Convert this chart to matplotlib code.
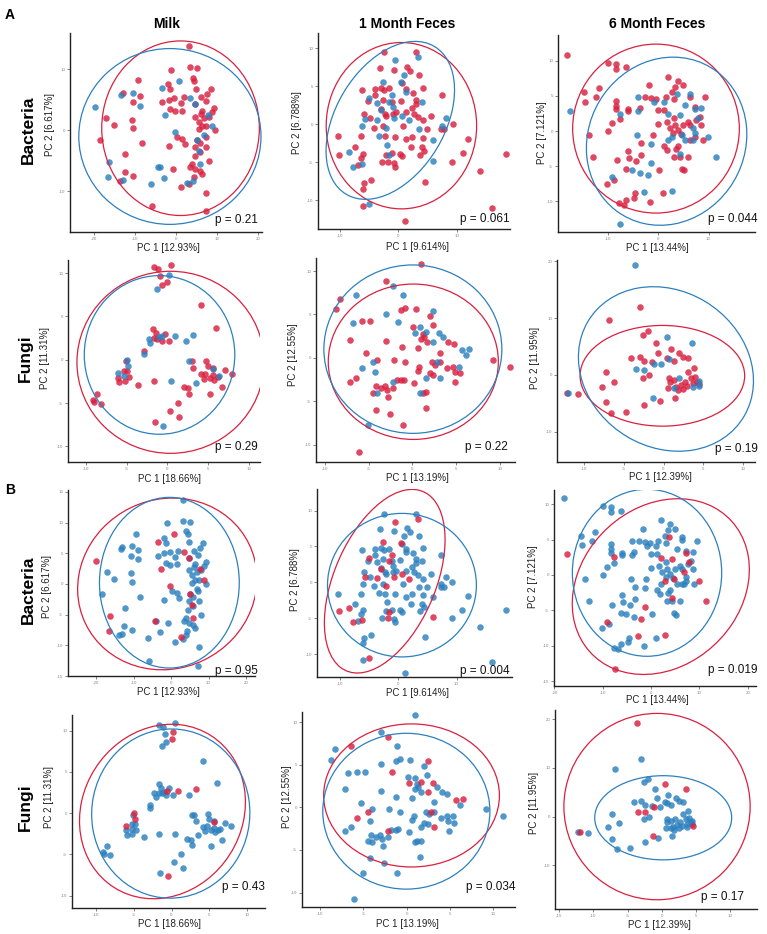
import matplotlib
matplotlib.use("Agg")
import numpy as np
import matplotlib.pyplot as plt
from matplotlib.patches import Ellipse

plt.rcParams['font.family'] = ['Liberation Sans', 'DejaVu Sans']
plt.rcParams['axes.unicode_minus'] = False

W, H = 767, 934
RED = '#D9203F'
BLUE = '#2C80BF'

# ---------------- data ----------------
col_titles = ['Milk', '1 Month Feces', '6 Month Feces']
row_titles = ['Bacteria', 'Fungi']
pc1_bac = ['PC 1 [12.93%]', 'PC 1 [9.614%]', 'PC 1 [13.44%]']
pc2_bac = ['PC 2 [6.617%]', 'PC 2 [6.788%]', 'PC 2 [7.121%]']
pc1_fun = ['PC 1 [18.66%]', 'PC 1 [13.19%]', 'PC 1 [12.39%]']
pc2_fun = ['PC 2 [11.31%]', 'PC 2 [12.55%]', 'PC 2 [11.95%]']
p_A_bac = ['0.21', '0.061', '0.044']
p_A_fun = ['0.29', '0.22', '0.19']
p_B_bac = ['0.95', '0.004', '0.019']
p_B_fun = ['0.43', '0.034', '0.17']

# Milk bacteria
milk_bac_x = [3.1,-1.2,3.3,5.1,-9.3,-2.0,-1.4,4.1,4.5,4.9, 8.5,-13.0,-8.9,-3.4,-1.8,-0.4,1.9,1.1,6.2,7.6,
              7.2,4.7,-10.6,-1.4,-0.2,1.5,9.2,8.9,6.3,4.7, 6.1,6.8,8.0,-17.0,-15.2,-10.7,-10.5,5.5,6.3,5.5,
              7.4,9.4,-18.5,-8.3,0.2,1.5,2.1,-1.8,5.1,7.2, 5.9,7.4,4.7,4.6,5.9,8.0,3.9,3.5,4.7,5.8,
              6.3,4.3,-12.4,-12.5,-10.4,-13.8,-0.8,1.1,3.1,7.4, -5.9,7.2,
              -19.9,-10.5,-8.7,-13.4,-3.5,0.7,3.5,-2.8,4.7,7.7, 8.8,-0.2,5.1,5.5,6.9,5.8,-16.4,-16.6,-13.0,-4.4,
              -4.0,-3.0,-6.1,2.7,4.1]
milk_bac_y = [13.7,9.9,10.3,10.1,8.2,7.5,6.7,8.6,8.1,6.8, 6.7,6.0,5.6,4.6,5.0,5.2,5.4,4.4,5.4,5.9,
              4.7,4.2,4.6,3.4,3.1,3.2,3.6,2.9,3.2,2.2, 2.7,1.9,2.2,1.9,0.8,1.7,0.3,1.4,0.7,0.1,
              0.7,0.0,-1.7,-2.2,-1.1,-1.4,-2.3,-2.6,-1.6,-1.1, -2.2,-2.8,-2.8,-4.2,-3.6,-5.0,-5.6,-6.1,-6.4,-6.7,
              -7.2,-7.7,-4.0,-6.9,-7.5,-8.3,-6.4,-9.4,-8.9,-10.3, -12.5,-13.3,
              3.7,6.1,4.0,5.7,6.9,8.1,5.2,2.4,4.2,2.5, 0.6,-0.3,-1.6,-3.4,-0.8,-5.6,-5.2,-7.7,-8.1,-6.0,
              -6.1,-7.9,-8.8,-8.6,-8.3]
milk_bac_gA = "rrrrrrrrrr rrrrrrrrrr rrrrrrrrrr rrrrrrrrrr rrrrrrrrrr rrrrrrrrrr rrrrrrrrrr rr bbbbbbbbbb bbbbbbbbbb bbbbb"
milk_bac_gB = "bbbbbbbbbb bbbbbbbbbb bbbbbbbbbb bbbbbbbbbb bbbbbbbbbb bbbbbbbbbb bbbbbbbbbb bb rbbbrrrrrr rrrrbrrrbr bbbrb"

# 1 month feces bacteria
mo1_bac_x = [-2.5,3.0,-3.1,-0.7,1.5,2.0,3.6,0.6,-6.2,-4.0, -3.0,-2.4,-1.5,1.4,2.5,4.2,-5.1,-4.0,-2.6,-1.0,
             0.4,3.0,3.0,7.4,-5.9,-4.9,-2.9,-2.3,-2.0,-0.9, -0.3,1.4,2.3,2.7,3.4,4.3,5.6,-4.2,-2.6,0.9,
             4.9,7.3,7.8,9.3,-10.3,-6.3,-2.3,-0.6,1.3,2.4, 4.3,12.0,-7.4,-6.0,-6.3,-2.0,-1.1,0.3,0.6,2.2,
             3.7,4.0,4.4,-2.7,-0.7,-0.5,-6.9,9.2,11.0,14.0, 18.4,4.6,-4.6,-5.8,-6.0,-6.0,16.0,1.1,-1.8,-10.1,
             -0.5,3.4,1.0,0.5,-2.6,1.4,-1.0,-5.0,-3.6,-1.5, 4.1,-0.9,-2.9,-0.7,0.6,1.9,-5.7,-6.1,-3.7,-2.1,
             -3.3,-1.9,-1.6,3.6,5.9,8.2,7.4,-8.4,-7.7,-6.2, 5.9,-5.0]
mo1_bac_y = [9.5,9.5,7.4,7.1,7.5,7.0,6.5,5.4,4.5,4.6, 4.8,4.5,4.7,4.6,4.1,4.8,3.0,3.8,3.2,2.9,
             3.1,3.2,2.7,3.8,1.4,0.8,2.0,1.4,1.1,1.4, 1.6,1.6,2.1,1.4,1.0,0.5,1.1,-0.5,-0.3,-0.2,
             -0.7,-0.7,-0.7,0.0,-1.6,-1.6,-1.6,-1.7,-2.0,-1.7, -1.8,-1.9,-3.0,-3.9,-4.4,-4.0,-3.8,-3.9,-4.2,-3.0,
             -4.0,-3.0,-3.5,-5.0,-5.1,-5.6,-5.4,-5.0,-3.8,-6.2, -3.9,-7.6,-7.4,-7.7,-8.5,-10.8,-11.1,-12.7,-5.0,-4.0,
             8.4,8.8,6.5,5.5,5.6,4.2,3.8,3.4,2.8,2.9, 2.9,2.3,1.9,0.8,1.1,0.5,0.7,-0.3,0.6,-0.5,
             -1.5,-2.7,-4.1,-0.6,-2.1,0.8,-0.3,-3.6,-5.6,-5.3, -4.9,-10.5]
mo1_bac_gA = "rrrrrrrrrr rrrrrrrrrr rrrrrrrrrr rrrrrrrrrr rrrrrrrrrr rrrrrrrrrr rrrrrrrrrr rrrrrrrrrr bbbbbbbbbb bbbbbbbbbb bbbbbbbbbb bb"
mo1_bac_gB = "bbbbbbbbbb bbbbbbbbbb bbbbbbbbbb bbbbbbbbbb bbbbbbbbbb bbbbbbbbbb bbbbbbbbbb bbbbbbbbrr rrbrrbrrbr bbrrrrrbrr bbrbbbbrrr rr"

# 6 month feces bacteria
mo6_bac_x = [-18.1,-9.9,-8.3,-8.3,-6.3,-14.6,-11.7,-14.4,-12.3,-8.3, -8.4,-8.3,-6.0,-6.0,-3.6,-9.2,-7.6,-9.9,-13.6,-12.8,
             -10.1,-8.8,-8.2,-6.0,-5.8,-4.4,-3.4,-6.3,-3.3,-1.0, 0.2,-1.7,-2.5,-1.3,-0.3,0.0,1.2,2.0,4.0,3.4,
             2.8,3.1,1.5,5.0,6.3,9.4,7.3,0.0,1.7,3.1, 3.3,5.0,6.0,6.3,7.6,8.3,8.6,4.0,3.0,4.6,
             2.3,1.2,1.8,3.5,4.0,3.2,4.4,6.0,4.8,5.1, 6.3,7.3,8.9,-4.5,-4.8,-6.3,-6.8,-7.7,-1.5,1.0,
             -17.5,-4.0,-4.0,-7.6,-0.8,1.1,3.8,5.4,6.4,7.3, 8.6,2.0,4.3,7.9,6.9,4.8,2.8,7.3,9.9,5.4,
             6.9,-4.1,-1.3,2.0,4.4,11.4,-1.3,-5.1,-3.6,-2.0, -9.1,-2.8,2.8,-7.5]
mo6_bac_y = [10.9,9.7,9.6,8.9,9.1,5.5,6.1,4.2,4.8,4.3, 3.6,3.1,3.1,2.8,3.3,1.1,1.7,0.0,-0.6,-3.7,
             -7.5,-7.0,-4.2,-2.8,-3.8,-4.3,-3.4,-5.4,-1.7,-0.6, -5.5,6.5,4.8,4.7,4.5,3.0,3.0,7.7,7.2,6.3,
             5.5,4.5,4.8,6.5,4.9,4.8,3.4,1.0,1.3,1.8, 0.8,0.9,1.3,0.9,1.6,2.0,0.9,0.1,-0.3,-0.4,
             0.4,-2.2,-2.7,-2.5,-2.1,-3.7,-3.7,-3.7,-5.4,-5.6, -1.3,-0.9,-1.3,-8.9,-9.5,-9.8,-10.5,-10.3,-10.1,-8.9,
             2.9,4.8,2.8,2.5,4.1,4.1,5.3,3.7,5.3,3.1, 3.3,2.4,2.3,1.8,0.4,-0.6,-0.8,-0.3,-0.9,-1.3,
             -1.3,-0.6,-1.9,-1.3,-3.3,-3.7,-4.6,-5.5,-6.0,-6.2, -6.6,-8.7,-8.5,-13.3]
mo6_bac_gA = "rrrrrrrrrr rrrrrrrrrr rrrrrrrrrr rrrrrrrrrr rrrrrrrrrr rrrrrrrrrr rrrrrrrrrr rrrrrrrrrr bbbbbbbbbb bbbbbbbbbb bbbbbbbbbb bbbb"
mo6_bac_gB = "bbbbbbbbbb bbbbbbbbbb bbbbbbbbbb bbbbbbbbbb bbbbbbbbbb bbbbbbbbbb bbbbbbbbbb bbbbbbbbbb rbbrbbrbbr brrrrrrbrb bbbbrrrbbr rrrr"

# Milk fungi
milk_fun_x = [-1.6,-1.1,0.5,-0.9,-0.7,4.2,6.0,-1.7,-1.4,-0.3, -1.3,-0.7,0.2,-1.6,-2.9,-5.1,-5.3,-6.1,-5.9,-5.2,
              -4.7,-4.9,-3.6,-1.6,2.0,2.6,2.7,1.3,0.3,1.5, -1.5,3.0,3.2,4.8,5.0,5.6,4.2,4.5,4.7,5.2,
              5.6,5.8,6.2,6.7,7.1,7.9,5.2,-9.1,-9.0,-8.6, -8.2,0.0,
              -1.3,0.2,-2.3,-2.1,-1.0,-0.6,0.9,2.3,3.2,-2.9, -5.0,-4.8,-6.0,-5.3,0.5,2.7,3.5,5.6,6.4,-0.5]
milk_fun_y = [10.7,10.5,10.9,9.6,8.6,6.3,3.6,3.5,3.1,3.0, 2.4,2.2,2.2,2.5,1.0,-0.2,-1.3,-2.1,-2.6,-2.5,
              -2.0,-1.3,-2.9,-2.5,-3.1,-3.3,-3.9,-5.0,-5.9,-6.6, -7.2,-0.2,-0.9,-0.1,-0.7,-0.9,-1.7,-2.2,-1.6,-2.1,
              -1.8,-2.3,-2.0,-3.2,-1.2,-1.6,-4.0,-4.7,-4.9,-4.0, -5.1,9.0,
              8.1,9.8,2.4,1.9,2.6,2.7,2.7,2.2,2.9,0.6, 0.0,-0.7,-1.5,-1.9,-2.5,-0.2,-2.7,-1.1,-1.9,-7.6]
milk_fun_gA = "rrrrrrrrrr rrrrrrrrrr rrrrrrrrrr rrrrrrrrrr rrrrrrrrrr rr bbbbbbbbbb bbbbbbbbbb"
milk_fun_gB = "bbbbbbbbbb bbbbbbbbbb bbbbbbbbbb bbbbbbbbbb bbbbbbbbbb br brbbbrrbrb rrrbbbbrbr"

# 1 month feces fungi
mo1_fun_x = [1.0,-3.0,-8.3,-8.7,-7.1,-5.8,-4.8,-1.3,-0.8,0.4, 2.0,2.3,0.1,1.2,1.3,1.0,-3.0,-1.2,0.6,1.7,
             4.1,4.7,3.1,-5.3,-4.0,-2.1,-0.8,2.2,2.6,3.1, 0.8,0.6,2.0,2.4,3.9,4.6,4.8,5.4,4.9,-7.1,
             -6.4,-4.1,-3.6,-3.1,-2.9,-2.2,-1.8,-1.3,-1.0,-2.8, -4.5,-4.2,-2.6,-1.1,0.2,1.2,1.6,1.5,9.2,-6.1,
             11.1,
             -2.2,-6.4,-1.1,-3.0,-6.8,-1.7,2.4,0.3,0.9,1.6, 3.0,3.5,2.4,5.7,6.5,6.1,5.3,2.8,1.6,3.2,
             -5.8,-4.5,-4.3,-4.0,-2.2,0.9,-5.1]
mo1_fun_y = [10.8,8.9,6.8,5.6,2.1,4.2,4.2,5.5,5.7,5.6, 4.8,3.8,3.6,2.8,2.4,2.2,1.9,1.2,1.1,1.8,
             1.8,1.6,0.6,0.5,-0.2,-0.2,-0.5,-0.5,-0.8,-0.5, -1.0,-1.5,-1.8,-2.0,-1.2,-1.0,-1.6,-1.8,-2.8,-2.8,
             -2.3,-3.3,-3.5,-3.2,-3.7,-3.5,-2.6,-2.6,-2.5,-4.5, -4.0,-6.0,-6.5,-7.7,-2.9,-4.0,-3.9,-5.8,-0.2,-10.8,
             -1.0,
             8.3,7.2,7.2,5.1,4.0,4.1,5.4,2.9,3.5,3.0, 2.9,2.4,1.8,0.9,1.0,0.3,-1.0,-0.5,-2.3,-2.3,
             -1.2,-0.5,-1.6,-4.1,-2.8,-4.1,-7.7]
mo1_fun_gA = "rrrrrrrrrr rrrrrrrrrr rrrrrrrrrr rrrrrrrrrr rrrrrrrrrr rrrrrrrrrr r bbbbbbbbbb bbbbbbbbbb bbbbbbb"
mo1_fun_gB = "bbbbbbbbbb bbbbbbbbbb bbbbbbbbbb bbbbbbbbbb bbbbbbbbbb bbbbbbbbbb b rrbbbrrrbr rbrrrbbrbr rrbbrbb"

# 6 month feces fungi
mo6_fun_x = [-3.0,-6.9,-2.0,-2.6,-1.0,-0.7,0.9,2.0,2.5,3.1, -4.1,-3.0,-2.4,-1.5,0.4,1.3,-7.3,-2.6,-1.8,-6.2,
             -7.8,-7.3,-6.6,-4.7,-2.4,-0.5,1.5,-12.2,-10.8,0.7, 0.8,0.6,1.3,1.6,1.8,2.2,2.5,2.7,2.9,3.1,
             3.5,3.7,3.8,3.9,4.2,4.4,
             -3.6,0.4,3.6,0.7,-3.5,-2.5,-1.2,-0.3,-1.3,-12.0, 1.9,1.3,3.7,4.4,4.5]
mo6_fun_y = [11.9,9.7,7.8,7.0,5.7,3.9,4.5,3.9,3.2,3.0, 3.0,3.1,2.4,2.2,3.0,2.4,0.6,-0.6,0.0,-1.3,
             -2.2,-4.7,-6.7,-6.5,-5.3,-4.5,-4.0,-3.2,-3.4,-0.5, -1.2,-2.3,-0.9,-2.2,-2.7,-1.7,-2.4,-1.2,-2.0,0.6,
             -0.6,-1.5,1.2,-0.3,-1.2,-1.6,
             19.3,6.7,5.6,2.8,1.0,0.9,2.0,1.9,-4.0,-3.1, -0.5,-2.3,-2.2,-1.0,-2.0]
mo6_fun_gA = "rrrrrrrrrr rrrrrrrrrr rrrrrrrrrr rrrrrrrrrr rrrrrr bbbbbbbbbb bbbbb"
mo6_fun_gB = "bbbbbbbbbb bbbbbbbbbb bbbbbbbbbb bbbbbbbbbb bbbbbb rrrbrrrbrr bbbbr"

# ellipses: (cx, cy, width, height, angle)  [red, blue]
ell_A = {
    'milk_bac': [(1.1, 0.3, 38.5, 28.6, 0), (-1.5, -1.05, 44.5, 28.8, 0)],
    'mo1_bac': [(0.55, -0.2, 25.7, 21.9, 0), (-1.35, 0.5, 25.2, 16.7, 41)],
    'mo6_bac': [(-0.4, 0.35, 33.0, 24.1, 0), (1.7, -1.45, 31.9, 23.8, 8)],
    'milk_fun': [(0.4, -0.3, 23.0, 21.0, 0), (-0.95, 0.55, 18.5, 18.3, 0)],
    'mo1_fun': [(0.1, -0.45, 19.4, 17.9, 0), (0.05, 1.0, 20.3, 19.4, 0)],
    'mo6_fun': [(-0.15, -0.15, 20.7, 17.7, 0), (0.3, 1.05, 21.5, 29.3, 13.8)],
}
ell_B = {
    'milk_bac': [(-1.0, 0.0, 47.9, 27.9, 3), (-0.45, 0.2, 37.3, 27.8, 0)],
    'mo1_bac': [(-2.3, 0.15, 28.4, 16.6, 57.7), (0.65, -0.4, 25.5, 20.0, 0)],
    'mo6_bac': [(2.0, -1.65, 37.2, 24.0, 13), (-0.85, 0.3, 30.9, 23.6, 0)],
    'milk_fun': [(-1.2, 0.2, 22.8, 20.3, 35), (-0.1, -0.05, 21.0, 20.5, 10)],
    'mo1_fun': [(0.55, 1.4, 20.3, 16.8, 0), (-0.05, -0.45, 19.3, 18.3, 0)],
    'mo6_fun': [(-0.7, 2.05, 27.2, 38.3, 0), (0.2, -0.25, 20.0, 17.3, 0)],
}

datasets = {
    'milk_bac': (milk_bac_x, milk_bac_y, milk_bac_gA, milk_bac_gB),
    'mo1_bac': (mo1_bac_x, mo1_bac_y, mo1_bac_gA, mo1_bac_gB),
    'mo6_bac': (mo6_bac_x, mo6_bac_y, mo6_bac_gA, mo6_bac_gB),
    'milk_fun': (milk_fun_x, milk_fun_y, milk_fun_gA, milk_fun_gB),
    'mo1_fun': (mo1_fun_x, mo1_fun_y, mo1_fun_gA, mo1_fun_gB),
    'mo6_fun': (mo6_fun_x, mo6_fun_y, mo6_fun_gA, mo6_fun_gB),
}

# ---------------- layout (pixels) ----------------
# key, section, L, R, T, B, xlim, ylim, xticks, yticks, xlabel pos, ylabel pos, p pos, xlabel, ylabel, p
panels = [
    ('milk_bac', 'A', 70, 262, 33, 232, (-25.9, 21.0), (-16.7, 15.9), [-20, -10, 0, 10, 20], [-10, 0, 10],
     (168, 248), (50, 125), (258, 220), pc1_bac[0], pc2_bac[0], p_A_bac[0]),
    ('mo1_bac', 'A', 318, 510, 33, 229, (-13.7, 19.1), (-13.8, 12.0), [-10, 0, 10], [-10, -5, 0, 5, 10],
     (417, 247), (297, 123), (510, 219), pc1_bac[1], pc2_bac[1], p_A_bac[1]),
    ('mo6_bac', 'A', 558, 755, 35, 232, (-19.8, 19.2), (-14.4, 13.7), [-10, 0, 10], [-10, -5, 0, 5, 10],
     (657, 248), (542, 133), (758, 219), pc1_bac[2], pc2_bac[2], p_A_bac[2]),
    ('milk_fun', 'A', 68, 260, 260, 462, (-12.2, 11.4), (-11.8, 11.5), [-10, -5, 0, 5, 10], [-10, -5, 0, 5, 10],
     (170, 479), (45, 358), (258, 447), pc1_fun[0], pc2_fun[0], p_A_fun[0]),
    ('mo1_fun', 'A', 316, 515, 258, 462, (-11.0, 11.7), (-12.0, 11.5), [-10, -5, 0, 5, 10], [-10, -5, 0, 5, 10],
     (417, 478), (293, 355), (508, 447), pc1_fun[1], pc2_fun[1], p_A_fun[1]),
    ('mo6_fun', 'A', 557, 755, 260, 462, (-13.4, 11.5), (-15.3, 20.2), [-10, -5, 0, 5, 10], [-10, 0, 10, 20],
     (660, 477), (535, 358), (758, 449), pc1_fun[2], pc2_fun[2], p_A_fun[2]),
    ('milk_bac', 'B', 68, 255, 490, 676, (-27.5, 22.4), (-14.2, 15.3), [-20, -10, 0, 10, 20], [-15, -10, -5, 0, 5, 10, 15],
     (168, 692), (47, 587), (258, 671), pc1_bac[0], pc2_bac[0], p_B_bac[0]),
    ('mo1_bac', 'B', 317, 512, 489, 677, (-13.9, 19.5), (-13.2, 13.0), [-10, 0, 10], [-10, -5, 0, 5, 10],
     (417, 693), (295, 580), (510, 671), pc1_bac[1], pc2_bac[1], p_B_bac[1]),
    ('mo6_bac', 'B', 554, 756, 490, 686, (-20.1, 21.7), (-15.7, 12.0), [-20, -10, 0, 10, 20], [-15, -10, -5, 0, 5, 10],
     (657, 700), (533, 577), (758, 670), pc1_bac[2], pc2_bac[2], p_B_bac[2]),
    ('milk_fun', 'B', 72, 265, 715, 908, (-13.2, 12.4), (-11.5, 11.9), [-10, -5, 0, 5, 10], [-10, -5, 0, 5, 10],
     (169, 924), (49, 797), (265, 887), pc1_fun[0], pc2_fun[0], p_B_fun[0]),
    ('mo1_fun', 'B', 302, 515, 712, 907, (-12.1, 12.5), (-11.7, 11.2), [-10, -5, 0, 5, 10], [-10, -5, 0, 5, 10],
     (407, 924), (287, 797), (516, 887), pc1_fun[1], pc2_fun[1], p_B_fun[1]),
    ('mo6_fun', 'B', 555, 757, 710, 909, (-15.6, 13.9), (-19.0, 21.9), [-15, -10, -5, 0, 5, 10], [-10, 0, 10, 20],
     (659, 925), (534, 803), (744, 897), pc1_fun[2], pc2_fun[2], p_B_fun[2]),
]

fig = plt.figure(figsize=(W / 100, H / 100), dpi=100)


def ftext(px, py, s, **kw):
    fig.text(px / W, 1 - py / H, s, **kw)


def groups(s):
    return np.array(list(s.replace(' ', '')))


for (key, sec, L, R, T, B, xlim, ylim, xt, yt, xlp, ylp, pp, xl, yl, pv) in panels:
    ax = fig.add_axes([L / W, 1 - B / H, (R - L) / W, (B - T) / H])
    x, y, gA, gB = datasets[key]
    x = np.array(x)
    y = np.array(y)
    g = groups(gA if sec == 'A' else gB)
    if not (len(x) == len(y) == len(g)):
        raise ValueError(f"{key} {sec}: {len(x)} {len(y)} {len(g)}")
    order = ['r', 'b'] if sec == 'A' else ['b', 'r']
    for c in order:
        m = g == c
        ax.scatter(x[m], y[m], s=22, color=RED if c == 'r' else BLUE, alpha=0.82,
                   linewidths=0, zorder=2)
    ells = ell_A[key] if sec == 'A' else ell_B[key]
    for (cx, cy, w, h, a), col in zip(ells, [RED, BLUE]):
        ax.add_patch(Ellipse((cx, cy), w, h, angle=a, fill=False, edgecolor=col,
                             lw=0.9, zorder=3))
    ax.set_xlim(*xlim)
    ax.set_ylim(*ylim)
    ax.set_xticks(xt)
    ax.set_yticks(yt)
    for s in ['top', 'right']:
        ax.spines[s].set_visible(False)
    for s in ['left', 'bottom']:
        ax.spines[s].set_linewidth(1.0)
        ax.spines[s].set_color('#222222')
    ax.tick_params(labelsize=3.2, labelcolor='#888888', length=2, width=0.5,
                   color='#555555', pad=1.5)
    ax.set_facecolor('none')
    ftext(xlp[0], xlp[1], xl, ha='center', va='center', fontsize=7, color='#222222')
    ftext(ylp[0], ylp[1], yl, ha='center', va='center', fontsize=7, color='#222222',
          rotation=90)
    ftext(pp[0], pp[1], 'p = ' + pv, ha='right', va='center', fontsize=8.5, color='#111111')

# column titles
for cx, t in zip([167, 407, 657], col_titles):
    ftext(cx, 24, t, ha='center', va='center', fontsize=10, fontweight='bold')
# row titles
for (rx, ry), t in zip([(28, 130), (25, 358), (28, 590), (25, 807)],
                       [row_titles[0], row_titles[1], row_titles[0], row_titles[1]]):
    ftext(rx, ry, t, ha='center', va='center', fontsize=12.5, fontweight='bold', rotation=90)
# section letters
ftext(10, 15, 'A', ha='center', va='center', fontsize=10, fontweight='bold')
ftext(10, 490, 'B', ha='center', va='center', fontsize=10, fontweight='bold')

fig.savefig('out.png', dpi=100, facecolor='white')
